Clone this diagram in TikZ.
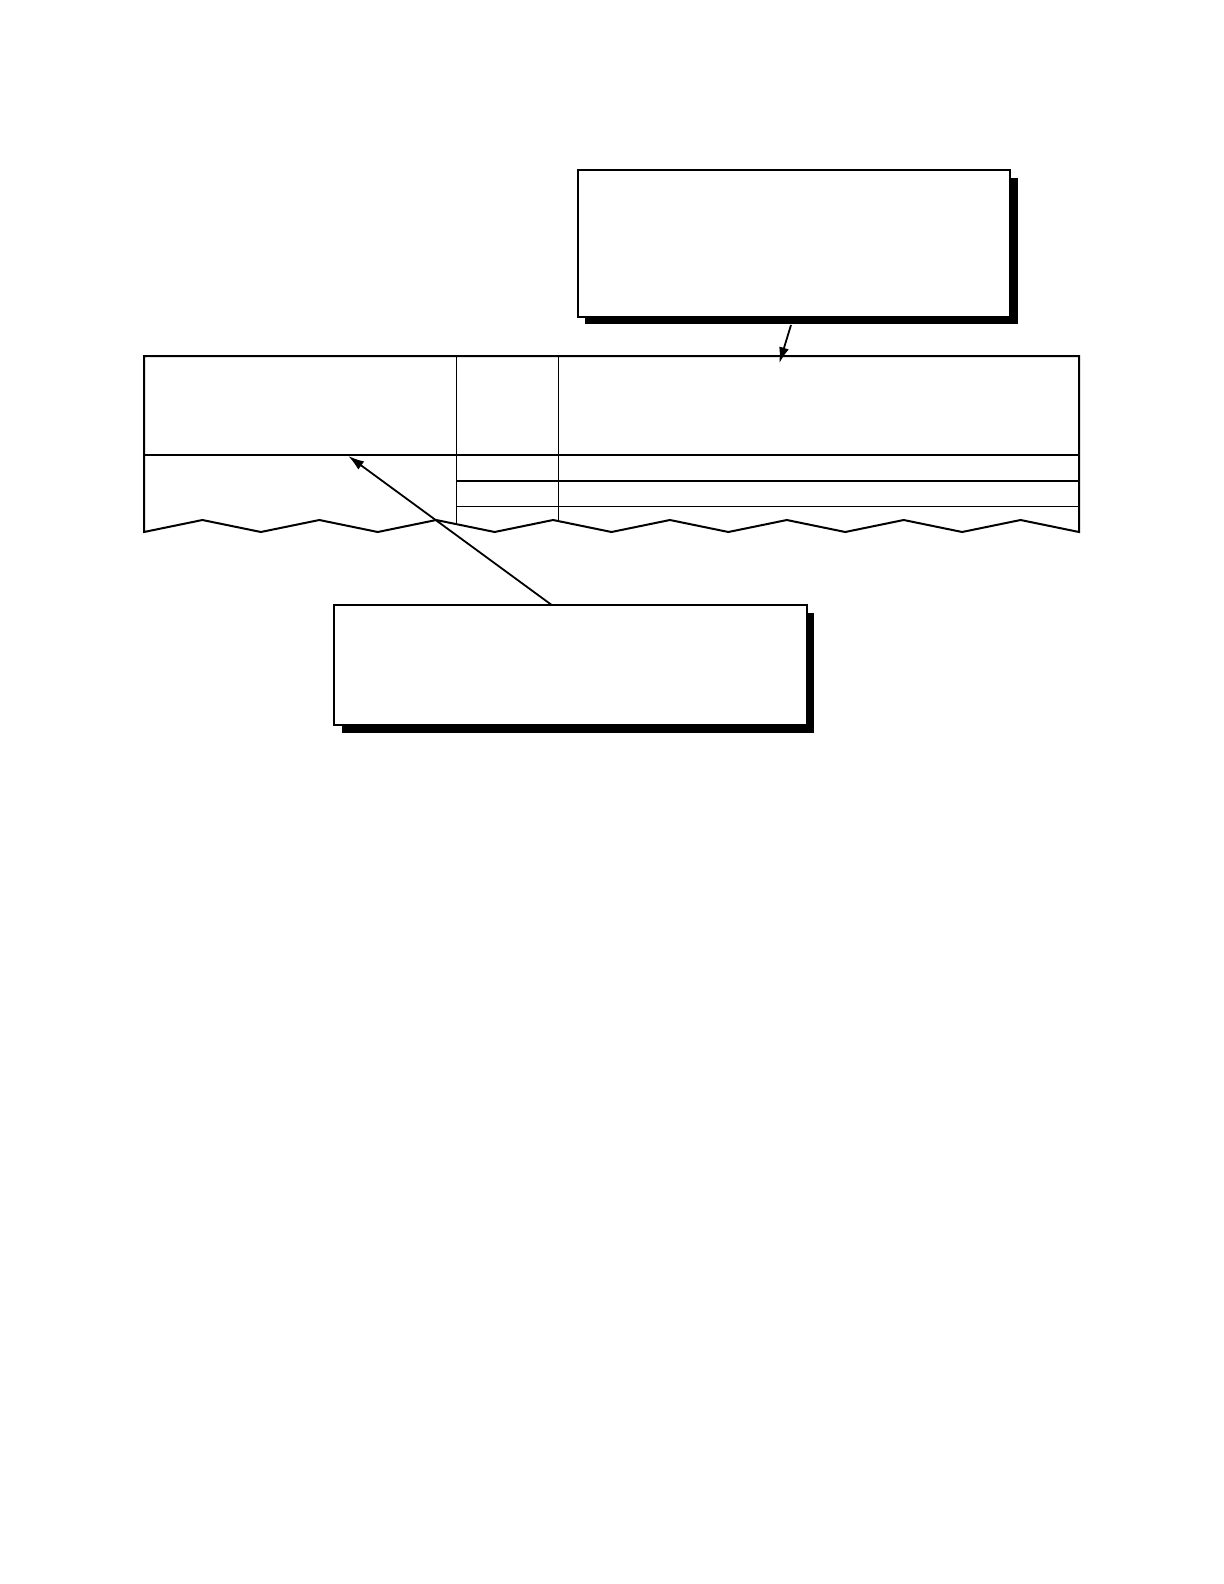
\documentclass[tikz,border=0pt]{standalone}
\usetikzlibrary{arrows.meta,shadows}
\begin{document}
\begin{tikzpicture}[x=0.5pt,y=-0.5pt,
  callout/.style={draw=black,line width=1pt,fill=white,inner sep=0pt,
    drop shadow={shadow xshift=3.8pt,shadow yshift=-3.8pt,fill=black,opacity=1}},
  outer/.style={line width=1pt,line join=miter},
  inner/.style={line width=0.65pt},
  pointer/.style={line width=0.9pt,-{Latex[length=8pt,width=5pt]}}]
\useasboundingbox (0,0) rectangle (1224,1584);
% callout boxes
\node (topbox) [callout,minimum width=216.25pt,minimum height=73.35pt] at (793.75,243.3) {};
\node (botbox) [callout,minimum width=236.35pt,minimum height=59.85pt] at (570.35,665.15) {};
% table outline with torn (zigzag) bottom edge
\draw[outer] (144,356) -- (1079,356) -- (1079,532)
  -- (1020.56,520) -- (962.125,532) -- (903.69,520) -- (845.25,532)
  -- (786.81,520) -- (728.375,532) -- (669.94,520) -- (611.5,532)
  -- (553.06,520) -- (494.625,532) -- (436.19,520) -- (377.75,532)
  -- (319.31,520) -- (260.875,532) -- (202.44,520) -- (144,532) -- cycle;
% header separator
\draw[outer] (144,455) -- (1079,455);
% column lines
\draw[inner] (456.7,356) -- (456.7,524.2);
\draw[inner] (558.3,356) -- (558.3,521.1);
% row lines
\draw[inner] (456.7,481) -- (1079,481);
\draw[inner] (456.7,506.3) -- (1079,506.3);
% connectors
\coordinate (a1s) at (791,325);
\coordinate (a1e) at (779.3,363.3);
\coordinate (a2s) at (551.7,605);
\coordinate (a2e) at (348.3,456);
\draw[pointer] (a1s) -- (a1e);
\draw[pointer] (a2s) -- (a2e);
\end{tikzpicture}
\end{document}
